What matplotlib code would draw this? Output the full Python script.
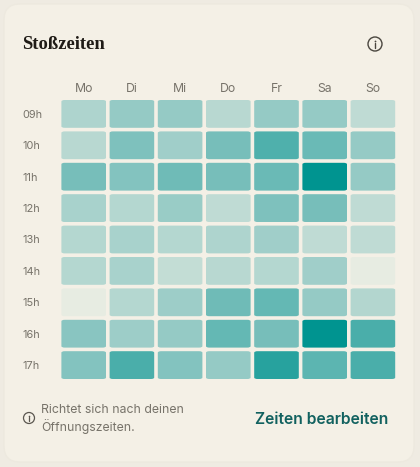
import matplotlib
matplotlib.use("Agg")
import matplotlib.pyplot as plt
from matplotlib.colors import LinearSegmentedColormap
from matplotlib.patches import Circle, FancyBboxPatch

days = ["Mo", "Di", "Mi", "Do", "Fr", "Sa", "So"]
hours = ["09h", "10h", "11h", "12h", "13h", "14h", "15h", "16h", "17h"]

# one row per hour
row_09 = [.30, .42, .42, .25, .42, .42, .22]
row_10 = [.25, .52, .37, .55, .70, .60, .42]
row_11 = [.55, .50, .58, .55, .60, 1.0, .42]
row_12 = [.33, .27, .40, .22, .52, .55, .22]
row_13 = [.27, .33, .27, .30, .37, .22, .22]
row_14 = [.27, .33, .20, .25, .27, .37, .03]
row_15 = [.03, .27, .38, .58, .62, .42, .28]
row_16 = [.48, .38, .42, .62, .55, 1.0, .72]
row_17 = [.50, .72, .50, .42, .85, .65, .72]
rows = [row_09, row_10, row_11, row_12, row_13, row_14, row_15, row_16, row_17]

W, H = 420, 467
cmap = LinearSegmentedColormap.from_list("busy", [(0, "#EDEEE4"), (.5, "#84C3BF"), (1, "#009490")])
grey = "#77736A"

fig = plt.figure(figsize=(W / 100, H / 100), dpi=100, facecolor="#EFEBE2")

# overlay in pixel coordinates for the card, title and footer
bg = fig.add_axes([0, 0, 1, 1])
bg.set_xlim(0, W)
bg.set_ylim(H, 0)
bg.axis("off")
bg.add_patch(FancyBboxPatch((4, 4), 410, 458, boxstyle="round,pad=0,rounding_size=16",
                            fc="#F4F0E6", ec="#EDE9DF", lw=1))
bg.text(22, 44.5, "Stoßzeiten", family="Liberation Serif", weight="bold", fontsize=13.4,
        color="#1F1B16", va="center", ha="left")


def info_icon(x, y, r, lw, color):
    bg.add_patch(Circle((x, y), r, fc="none", ec=color, lw=lw))
    bg.plot([x, x], [y - r * 0.1, y + r * 0.5], color=color, lw=lw, solid_capstyle="round")
    bg.plot([x], [y - r * 0.45], marker="o", ms=lw * 1.3, color=color, mew=0)


info_icon(375, 44, 7, 1.0, "#4A463F")
info_icon(29, 418, 5.5, 0.9, "#5B5750")
bg.text(41, 410, "Richtet sich nach deinen", family="Inter", fontsize=8.85, color=grey,
        va="center", ha="left")
bg.text(41, 427, "Öffnungszeiten.", family="Inter", fontsize=8.85, color=grey,
        va="center", ha="left")
bg.text(388.5, 419, "Zeiten bearbeiten", family="Inter", weight="semibold", fontsize=11.3,
        color="#11615F", va="center", ha="right")

# heatmap axes: one data unit is one cell pitch
x0, pitch_x = 59.6, 48.2
y0, pitch_y = 98.2, 31.4
ax = fig.add_axes([x0 / W, 1 - (y0 + 9 * pitch_y) / H, 7 * pitch_x / W, 9 * pitch_y / H])
ax.patch.set_alpha(0)
ax.set_xlim(-0.5, 6.5)
ax.set_ylim(8.5, -0.5)
for s in ax.spines.values():
    s.set_visible(False)
ax.xaxis.tick_top()
ax.set_xticks(range(len(days)), days)
ax.set_yticks(range(len(hours)), hours)
ax.tick_params(length=0)
ax.tick_params(axis="x", pad=2.5, labelsize=8.8, labelcolor=grey)
ax.tick_params(axis="y", pad=0, labelsize=7.9, labelcolor=grey)
for lab in ax.get_xticklabels() + ax.get_yticklabels():
    lab.set_family("Inter")
for lab in ax.get_yticklabels():
    lab.set_ha("left")
    lab.set_x(-(x0 - 22) / (7 * pitch_x))

gap_x, gap_y = 3.6 / pitch_x, 3.6 / pitch_y
for r, row in enumerate(rows):
    for c, val in enumerate(row):
        ax.add_patch(FancyBboxPatch((c - 0.5 + gap_x / 2, r - 0.5 + gap_y / 2),
                                    1 - gap_x, 1 - gap_y,
                                    boxstyle="round,pad=0,rounding_size=0.07",
                                    mutation_aspect=pitch_y / pitch_x,
                                    fc=cmap(val), ec="none"))

fig.savefig("out.png", dpi=100, facecolor=fig.get_facecolor())
